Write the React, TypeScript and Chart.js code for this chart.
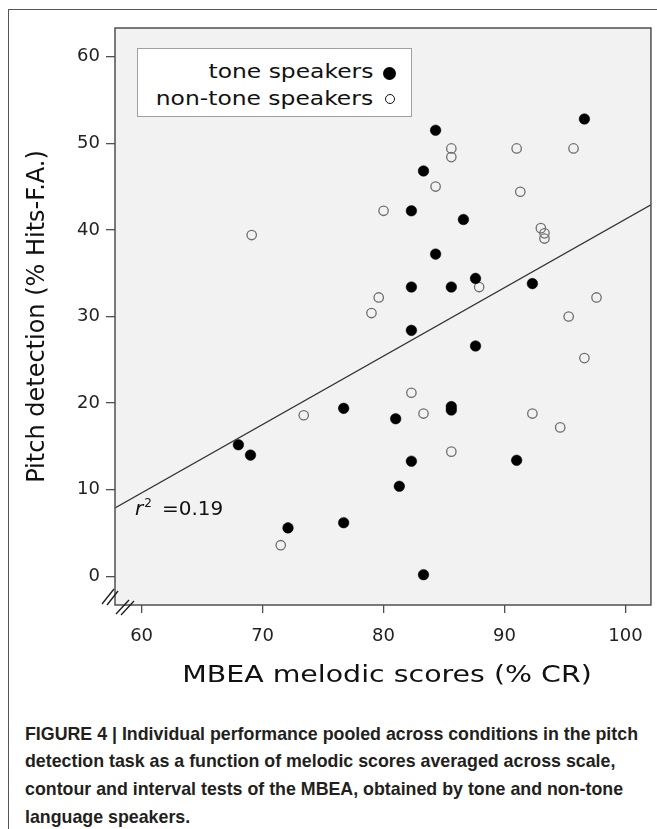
import React, { useEffect, useMemo, useRef } from "react";
import { Chart, registerables } from "chart.js";

Chart.register(...registerables);

// ---- data ----
const X_TICKS = [60, 70, 80, 90, 100];
const Y_TICKS = [0, 10, 20, 30, 40, 50, 60];
const X_MIN = 57.8;
const X_MAX = 102.1;
const Y_MIN = -3.3;
const Y_MAX = 63.3;

const toneX = [96.6, 84.3, 83.3, 82.3, 86.6, 84.3, 82.3, 85.6, 87.6, 92.3, 82.3, 87.6, 81.0, 85.6, 85.6, 82.3, 91.0, 81.3, 83.3, 68.0, 69.0, 72.1, 76.7, 76.7];
const toneY = [52.8, 51.5, 46.8, 42.2, 41.2, 37.2, 33.4, 33.4, 34.4, 33.8, 28.4, 26.6, 18.2, 19.6, 19.2, 13.3, 13.4, 10.4, 0.2, 15.2, 14.0, 5.6, 6.2, 19.4];

const nonToneX = [85.6, 85.6, 91.0, 95.7, 84.3, 91.3, 80.0, 93.0, 93.3, 93.3, 87.9, 79.6, 79.0, 97.6, 95.3, 69.1, 73.4, 71.5, 82.3, 83.3, 92.3, 94.6, 85.6, 96.6];
const nonToneY = [49.4, 48.4, 49.4, 49.4, 45.0, 44.4, 42.2, 40.2, 39.6, 39.0, 33.4, 32.2, 30.4, 32.2, 30.0, 39.4, 18.6, 3.6, 21.2, 18.8, 18.8, 17.2, 14.4, 25.2];

const fitX = [57.8, 102.1];
const fitY = [7.9, 42.9];

const R2_TEXT = "=0.19";
const R2_AT = { x: 59.45, y: 7.7 };

const X_TITLE = "MBEA melodic scores (% CR)";
const Y_TITLE = "Pitch detection (% Hits-F.A.)";
const LEGEND = ["tone speakers", "non-tone speakers"];
const CAPTION_LINES = [
  "FIGURE 4 | Individual performance pooled across conditions in the pitch",
  "detection task as a function of melodic scores averaged across scale,",
  "contour and interval tests of the MBEA, obtained by tone and non-tone",
  "language speakers.",
];

const FONT = "'DejaVu Sans', Verdana, sans-serif";
const CAPTION_FONT = "'Liberation Sans', Arial, sans-serif";
const CAPTION_SIZE = 18.6;
const CAPTION_WIDTH = 613;
const WIDE = 1.2; // horizontal stretch of the wide title/legend lettering

const framePlugin = {
  id: "frame",
  beforeDraw(chart: any) {
    const { ctx, chartArea: a } = chart;
    ctx.save();
    ctx.fillStyle = "#f2f2f2";
    ctx.fillRect(a.left, a.top, a.right - a.left, a.bottom - a.top);
    ctx.restore();
  },
  afterDraw(chart: any) {
    const { ctx, chartArea: a } = chart;
    ctx.save();
    ctx.strokeStyle = "#505050";
    ctx.lineWidth = 1.5;
    ctx.strokeRect(a.left, a.top, a.right - a.left, a.bottom - a.top);
    // axis break marks
    ctx.strokeStyle = "#1a1a1a";
    ctx.lineWidth = 1.3;
    const L = a.left;
    const B = a.bottom;
    const seg = (x1: number, y1: number, x2: number, y2: number) => {
      ctx.beginPath();
      ctx.moveTo(x1, y1);
      ctx.lineTo(x2, y2);
      ctx.stroke();
    };
    seg(L - 13, B - 1, L - 1, B - 16);
    seg(L - 8, B + 0, L + 3, B - 14);
    seg(L + 1, B + 9, L + 14, B - 5);
    seg(L + 6, B + 10, L + 19, B - 4);

    // r^2 annotation
    const px = chart.scales.x.getPixelForValue(R2_AT.x);
    const py = chart.scales.y.getPixelForValue(R2_AT.y);
    ctx.fillStyle = "#111";
    ctx.textBaseline = "middle";
    ctx.textAlign = "left";
    ctx.font = `italic 20px ${FONT}`;
    ctx.fillText("r", px, py);
    const rw = ctx.measureText("r").width;
    ctx.font = `12px ${FONT}`;
    ctx.fillText("2", px + rw + 1, py - 6);
    ctx.font = `20px ${FONT}`;
    ctx.fillText(R2_TEXT, px + 27, py);

    // x axis title (wide lettering)
    const xs = chart.scales.x;
    ctx.font = `23.7px ${FONT}`;
    ctx.fillStyle = "#111";
    ctx.textAlign = "center";
    ctx.textBaseline = "alphabetic";
    ctx.translate((xs.left + xs.right) / 2 + 4, 681.5);
    ctx.scale(WIDE, 1);
    ctx.fillText(X_TITLE, 0, 0);
    ctx.restore();
  },
};

export default function App() {
  const ref = useRef<HTMLCanvasElement>(null);

  const captionScale = useMemo(() => {
    try {
      const c = document.createElement("canvas").getContext("2d")!;
      c.font = `bold ${CAPTION_SIZE}px ${CAPTION_FONT}`;
      const w = c.measureText(CAPTION_LINES[0]).width;
      return w > 0 ? CAPTION_WIDTH / w : 1;
    } catch (e) {
      return 1;
    }
  }, []);

  useEffect(() => {
    const canvas = ref.current!;
    const chart = new Chart(canvas, {
      type: "scatter",
      data: {
        datasets: [
          {
            type: "line",
            label: "fit",
            data: fitX.map((x, i) => ({ x, y: fitY[i] })),
            borderColor: "#333",
            borderWidth: 1.3,
            pointRadius: 0,
            fill: false,
          } as any,
          {
            label: LEGEND[0],
            data: toneX.map((x, i) => ({ x, y: toneY[i] })),
            pointRadius: 5.3,
            backgroundColor: "#000",
            borderColor: "#000",
            borderWidth: 0.5,
          },
          {
            label: LEGEND[1],
            data: nonToneX.map((x, i) => ({ x, y: nonToneY[i] })),
            pointRadius: 4.7,
            backgroundColor: "rgba(0,0,0,0)",
            borderColor: "#6e6e6e",
            borderWidth: 1.3,
          },
        ],
      },
      options: {
        responsive: false,
        animation: false,
        devicePixelRatio: 1,
        layout: { padding: { top: 28, right: 6, left: 0, bottom: 0 } },
        plugins: { legend: { display: false }, tooltip: { enabled: false } },
        events: [],
        scales: {
          x: {
            type: "linear",
            position: "bottom",
            min: X_MIN,
            max: X_MAX,
            afterBuildTicks: (s: any) => {
              s.ticks = X_TICKS.map((v) => ({ value: v }));
            },
            afterFit: (s: any) => {
              s.height = 85;
            },
            ticks: {
              font: { family: FONT, size: 18, lineHeight: 1 },
              color: "#222",
              padding: 14,
              maxRotation: 0,
            },
            grid: {
              drawOnChartArea: false,
              drawTicks: true,
              tickLength: 8,
              color: "#505050",
              lineWidth: 1.3,
            },
            border: { display: false },
            title: { display: false },
          },
          y: {
            type: "linear",
            min: Y_MIN,
            max: Y_MAX,
            afterBuildTicks: (s: any) => {
              s.ticks = Y_TICKS.map((v) => ({ value: v }));
            },
            afterFit: (s: any) => {
              s.width = 115;
            },
            ticks: {
              font: { family: FONT, size: 18, lineHeight: 1 },
              color: "#222",
              padding: 6,
            },
            grid: {
              drawOnChartArea: false,
              drawTicks: true,
              tickLength: 9,
              color: "#505050",
              lineWidth: 1.3,
            },
            border: { display: false },
            title: {
              display: true,
              text: Y_TITLE,
              font: { family: FONT, size: 24, lineHeight: 1 },
              color: "#111",
              padding: { top: 26, bottom: 0 },
            },
          },
        },
      },
      plugins: [framePlugin],
    });
    return () => chart.destroy();
  }, []);

  const legendText = (top: number, text: string) => (
    <div
      style={{
        position: "absolute",
        right: 38,
        top,
        lineHeight: "22px",
        whiteSpace: "nowrap",
        transform: `scaleX(${WIDE})`,
        transformOrigin: "100% 50%",
      }}
    >
      {text}
    </div>
  );

  return (
    <div
      style={{
        position: "absolute",
        left: 0,
        top: 0,
        width: 657,
        height: 829,
        overflow: "hidden",
        background: "#fff",
      }}
    >
      <div
        style={{
          position: "absolute",
          left: 8,
          top: 9,
          width: 700,
          height: 900,
          borderLeft: "1.5px solid #555",
          borderTop: "1.5px solid #555",
        }}
      />
      <canvas
        ref={ref}
        width={657}
        height={690}
        style={{ position: "absolute", left: 0, top: 0, width: 657, height: 690 }}
      />
      {/* legend */}
      <div
        style={{
          position: "absolute",
          left: 137,
          top: 48,
          width: 275,
          height: 69,
          boxSizing: "border-box",
          background: "#fff",
          border: "1px solid #a0a0a0",
          fontFamily: FONT,
          fontSize: 19.5,
          color: "#111",
        }}
      >
        {legendText(12, LEGEND[0])}
        {legendText(39, LEGEND[1])}
        <span
          style={{
            position: "absolute",
            left: 245,
            top: 18,
            width: 13,
            height: 13,
            borderRadius: "50%",
            background: "#000",
          }}
        />
        <span
          style={{
            position: "absolute",
            left: 247,
            top: 45,
            width: 10,
            height: 10,
            boxSizing: "border-box",
            borderRadius: "50%",
            border: "1.5px solid #111",
          }}
        />
      </div>
      {/* caption */}
      <div
        style={{
          position: "absolute",
          left: 25,
          top: 719.5,
          fontFamily: CAPTION_FONT,
          fontWeight: "bold",
          fontSize: CAPTION_SIZE,
          lineHeight: "27.8px",
          color: "#231f20",
          whiteSpace: "nowrap",
          transform: `scaleX(${captionScale})`,
          transformOrigin: "0 0",
        }}
      >
        {CAPTION_LINES.map((l, i) => (
          <div key={i}>{l}</div>
        ))}
      </div>
    </div>
  );
}
